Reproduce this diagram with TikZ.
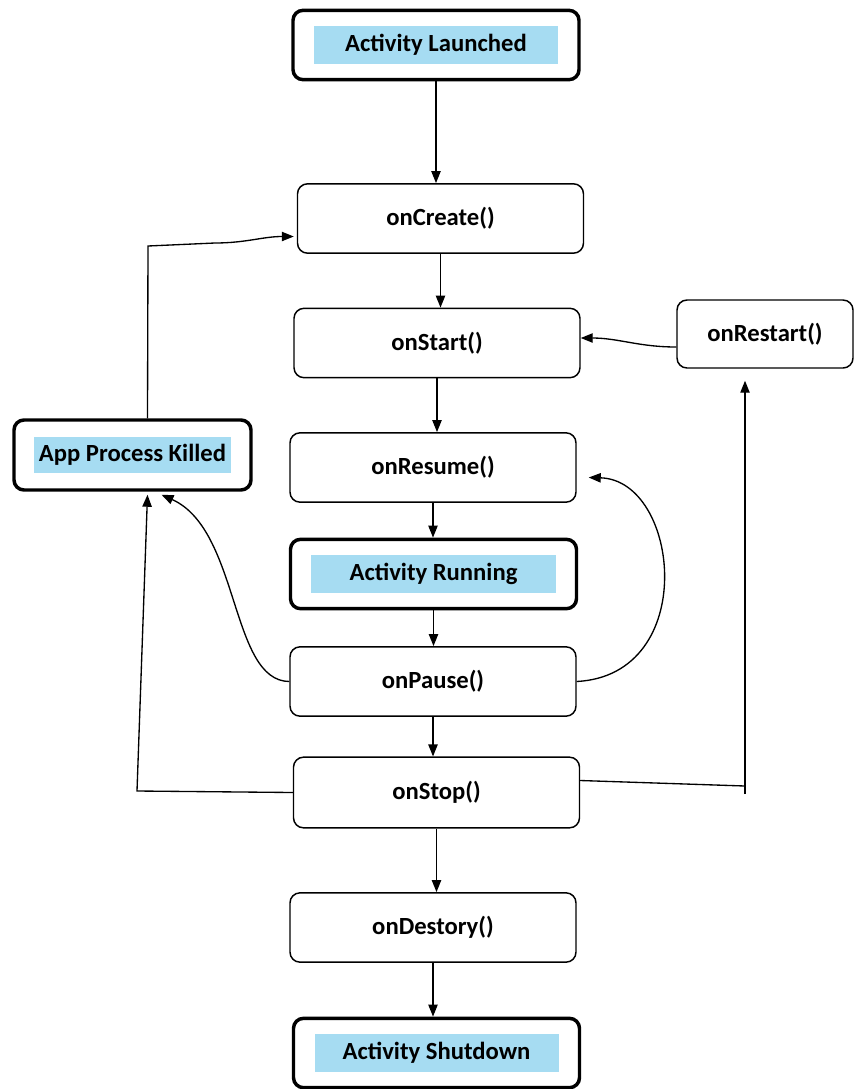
\documentclass[tikz,border=0pt]{standalone}
\usepackage{fontspec}
\setmainfont{Carlito}
\usetikzlibrary{arrows.meta}
\definecolor{hlblue}{RGB}{166,220,242}
\tikzset{
  stage/.style={draw,rounded corners=7.5pt,line width=1.1pt,inner sep=0pt,
    minimum width=214.5pt,minimum height=52pt,
    font=\fontsize{18.5}{22}\selectfont\bfseries},
  keystage/.style={stage,line width=2.6pt},
  hilite/.style={fill=hlblue,inner sep=0pt,minimum height=28.5pt,
    font=\fontsize{18.5}{22}\selectfont\bfseries},
  flow/.style={-{Triangle[length=9pt,width=7pt]},line width=1pt},
}

\begin{document}
\begin{tikzpicture}[x=0.75pt,y=-0.75pt]
  \useasboundingbox (0,0) rectangle (855,1089);
  % main column
  \node[keystage] (launched) at (436,45) {};
  \node[hilite,minimum width=183pt] (launchedtxt) at (launched) {Activity Launched};
  \node[stage] (create) at (440.5,218.5) {onCreate()};
  \node[stage] (start) at (437,343) {onStart()};
  \node[stage] (resume) at (433,467.5) {onResume()};
  \node[keystage] (running) at (433.5,574) {};
  \node[hilite,minimum width=184pt] (runningtxt) at (running) {Activity Running};
  \node[stage] (pause) at (433,681.5) {onPause()};
  \node[stage,minimum height=53pt] (stop) at (436.5,792.5) {onStop()};
  \node[stage] (destory) at (433,927.5) {onDestory()};
  \node[keystage] (shutdown) at (436.5,1053) {};
  \node[hilite,minimum width=183pt] (shutdowntxt) at (shutdown) {Activity Shutdown};
  % side boxes
  \node[stage,minimum width=132pt,minimum height=51pt] (restart) at (765,334) {onRestart()};
  \node[keystage,minimum width=177.75pt,minimum height=52.5pt] (killed) at (132.5,455) {};
  \node[hilite,minimum width=148pt,minimum height=27pt] (killedtxt) at (killed) {App Process Killed};

  \draw[flow] (launched.south) -- (launched.south |- create.north);
  \draw[flow] (create.south) -- (create.south |- start.north);
  \draw[flow] (start.south) -- (start.south |- resume.north);
  \draw[flow] (resume.south) -- (resume.south |- running.north);
  \draw[flow] (running.south) -- (running.south |- pause.north);
  \draw[flow] (pause.south) -- (pause.south |- stop.north);
  \draw[flow] (stop.south) -- (stop.south |- destory.north);
  \draw[flow] (destory.south) -- (destory.south |- shutdown.north);

  % loops back
  \draw[flow] ([shift={(0,13)}]restart.west) to[out=180,in=0] ([shift={(0,-5)}]start.east);
  \coordinate (rbend) at (745,786);
  \draw[line width=1pt] ([shift={(0,-12)}]stop.east) -- (rbend);
  \draw[flow,shorten >=9pt] ([shift={(0,8)}]rbend) -- (rbend |- restart.south);
  \coordinate (kbend) at (137,791);
  \draw[flow] (stop.west) -- (kbend) -- ([shift={(15,3)}]killed.south);
  \draw[flow] (pause.west) .. controls (230,681) and (240,530) .. ([shift={(29,3)}]killed.south);
  \draw[flow] (pause.east) .. controls (700,675) and (680,480) .. ([shift={(12,10)}]resume.east);
  \coordinate (cbend) at (148,246);
  \draw[flow] ([shift={(15,0)}]killed.north) -- (cbend) -- (215,243)
    to[out=0,in=180] ([shift={(-3,18)}]create.west);
\end{tikzpicture}
\end{document}
